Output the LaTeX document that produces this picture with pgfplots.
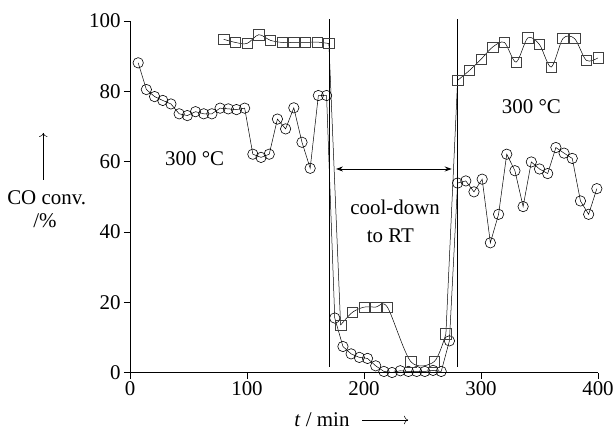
\documentclass[border=0pt]{standalone}
\usepackage{fontspec}
\setmainfont{Liberation Serif}
\usepackage{pgfplots}
\pgfplotsset{compat=1.18}
\usetikzlibrary{arrows.meta}
\newcommand{\bigfont}{\fontsize{21}{25}\selectfont}
\pgfplotsset{sqline/.style={black, line width=0.5bp, no marks, forget plot}}
\begin{document}
\begin{tikzpicture}[font=\bigfont]
\begin{axis}[
  at={(0,0)}, anchor=origin,
  scale only axis, width=468bp, height=351.5bp,
  xmin=0, xmax=400, ymin=0, ymax=100,
  axis x line=bottom, axis y line=left,
  axis line style={-, line width=0.6bp},
  xtick={0,100,...,400}, ytick={0,20,...,100},
  tick align=outside, major tick length=6bp,
  tick style={line width=0.6bp, black},
  /pgf/number format/assume math mode=true,
  tick label style={font=\bigfont},
  clip=false,
]
% circles: every 7 min
\addplot[black, line width=0.5bp, mark=o, mark size=5.2bp,
  mark options={solid, line width=0.6bp}] coordinates {
  (7,88.1) (14,80.5) (21,78.5) (28,77.4) (35,76.4) (42,73.6) (49,73.1)
  (56,74.2) (63,73.6) (70,73.6) (77,75.2) (84,75.0) (91,74.8) (98,75.2)
  (105,62.1) (112,61.2) (119,62.1) (126,72.1) (133,69.3) (140,75.3)
  (147,65.5) (154,58.1) (161,78.8) (168,78.8) (175,15.5) (182,7.4)
  (189,5.3) (196,4.3) (203,4.0) (210,1.9) (217,0.3) (224,0) (231,0.5)
  (238,0.3) (245,0.3) (252,0.3) (259,0.6) (266,0.3) (273,9.0) (280,53.9)
  (287,54.5) (294,51.4) (301,55) (308,36.9) (315,45) (322,62.1) (329,57.4)
  (336,47.2) (343,59.9) (350,57.9) (357,56.6) (364,64) (371,62.4)
  (378,60.9) (385,48.8) (392,45) (399,52.3)
};
% squares: every 10 min; smooth within each stage, straight at the jumps
\addplot[sqline, smooth] coordinates {
  (80,94.8) (90,93.9) (100,93.6) (110,96.1) (120,94.5) (130,93.9)
  (140,93.9) (150,93.9) (160,94.0) (170,93.6)};
\addplot[sqline] coordinates {(170,93.6) (180,13.5)};
\addplot[sqline, smooth] coordinates {
  (180,13.5) (190,17.1) (200,18.6) (210,18.6) (220,18.6) (240,3.1)
  (260,3.1) (270,11)};
\addplot[sqline] coordinates {(270,11) (280,83.1)};
\addplot[sqline, smooth] coordinates {
  (280,83.1) (290,85.9) (300,89.1) (310,92.6) (320,93.9) (330,88.3)
  (340,95.2) (350,93.3) (360,86.9) (370,95) (380,95) (390,88.8) (400,89.5)};
\addplot[only marks, mark=square, mark size=5.2bp,
  mark options={solid, line width=0.6bp, draw=black!75}] coordinates {
  (80,94.8) (90,93.9) (100,93.6) (110,96.1) (120,94.5) (130,93.9)
  (140,93.9) (150,93.9) (160,94.0) (170,93.6) (180,13.5) (190,17.1)
  (200,18.6) (210,18.6) (220,18.6) (240,3.1) (260,3.1) (270,11)
  (280,83.1) (290,85.9) (300,89.1) (310,92.6) (320,93.9) (330,88.3)
  (340,95.2) (350,93.3) (360,86.9) (370,95) (380,95) (390,88.8) (400,89.5)
};
\draw[line width=0.6bp] (axis cs:170,1.6) -- (axis cs:170,100.5);
\draw[line width=0.6bp] (axis cs:280,1.6) -- (axis cs:280,100.5);
\draw[line width=0.9bp, {Stealth[length=7bp,width=5bp]}-{Stealth[length=7bp,width=5bp]}]
  (axis cs:176,57.9) -- (axis cs:275,57.9);
\node[anchor=base] at (axis cs:55.3,58.8) {300 °C};
\node[anchor=base] at (axis cs:343.1,73.6) {300 °C};
\node[anchor=base] at (axis cs:226.6,45) {cool-down};
\node[anchor=base] at (axis cs:222.5,37.1) {to RT};
\end{axis}
% axis labels (bp, origin at axis origin)
\node at (-83.3bp,174.5bp) {CO conv.};
\node at (-85bp,152bp) {/\%};
\draw[line width=0.5bp, -{To[length=4bp]}] (-86.7bp,192.5bp) -- (-86.7bp,239.5bp);
\node[anchor=base] at (192bp,-53.5bp) {\textit{t} / min};
\draw[line width=0.5bp, -{To[length=4bp]}] (232bp,-47.5bp) -- (278bp,-47.5bp);
\pgfresetboundingbox
\path (-130bp,-56.5bp) rectangle (483bp,372.5bp);
\end{tikzpicture}
\end{document}
